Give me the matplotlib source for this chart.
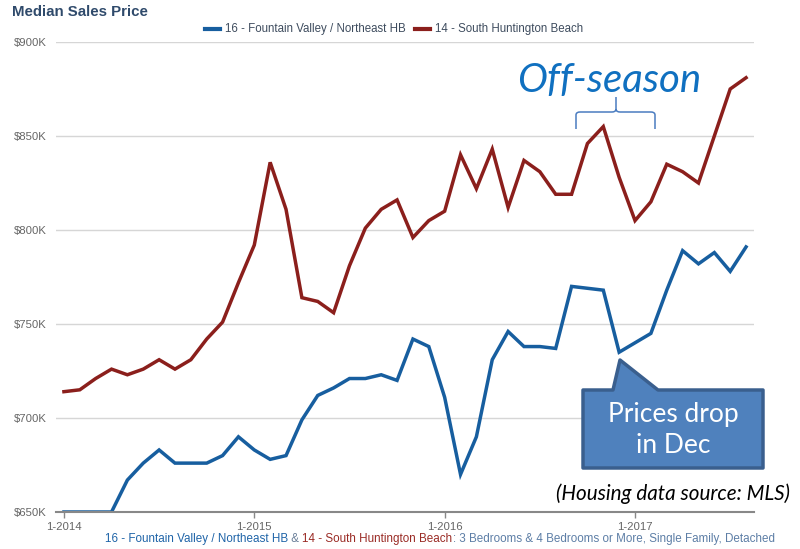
import matplotlib.pyplot as plt
import matplotlib.patches as mpatches
from matplotlib.path import Path

# monthly median sales price, $K, Jan 2014 .. Aug 2017
months = list(range(44))
fountain_valley = [650, 650, 650, 650, 667, 676, 683, 676, 676, 676, 680, 690,
                   683, 678, 680, 699, 712, 716, 721, 721, 723, 720, 742, 738,
                   711, 670, 690, 731, 746, 738, 738, 737, 770, 769, 768, 735,
                   740, 745, 768, 789, 782, 788, 778, 791]
south_hb = [714, 715, 721, 726, 723, 726, 731, 726, 731, 742, 751, 772,
            792, 836, 811, 764, 762, 756, 781, 801, 811, 816, 796, 805,
            810, 840, 822, 843, 812, 837, 831, 819, 819, 846, 855, 828,
            805, 815, 835, 831, 825, 850, 875, 881]
xtick_pos = [0, 12, 24, 36]
xtick_labels = ['1-2014', '1-2015', '1-2016', '1-2017']
ytick_vals = [650, 700, 750, 800, 850, 900]

BLUE = '#175e9f'
RED = '#8b1f1c'
W, H = 800, 549

plt.rcParams['font.family'] = ['Liberation Sans', 'DejaVu Sans']

fig = plt.figure(figsize=(W / 100, H / 100), dpi=100)
ax = fig.add_axes([56 / W, 1 - 512 / H, (754 - 56) / W, (512 - 42) / H])

ax.plot(months, fountain_valley, color=BLUE, lw=2.5, solid_joinstyle='miter')
ax.plot(months, south_hb, color=RED, lw=2.5, solid_joinstyle='miter')

ax.set_xlim(-0.5, 43.5)
ax.set_ylim(650, 900)
ax.set_yticks(ytick_vals)
ax.set_yticklabels(['$%dK' % v for v in ytick_vals])
ax.set_xticks(xtick_pos)
ax.set_xticklabels(xtick_labels)
ax.tick_params(axis='y', length=0, pad=7, labelsize=8.2, labelcolor='#666666')
ax.tick_params(axis='x', length=4, width=1, color='#888888', pad=3,
               labelsize=8.2, labelcolor='#666666')
ax.grid(axis='y', color='#d6d6d6', lw=1)
ax.set_axisbelow(True)
for s in ['top', 'right', 'left']:
    ax.spines[s].set_visible(False)
ax.spines['bottom'].set_color('#888888')
ax.spines['bottom'].set_linewidth(1.5)

fig.text(12 / W, 1 - 12 / H, 'Median Sales Price', fontsize=10.8,
         fontweight='bold', color='#2f4a6b', va='center')

renderer = fig.canvas.get_renderer()


def put_pieces(x_px, y_px, pieces, size):
    # lay out coloured text pieces one after another, left to right
    x = x_px
    for s, c in pieces:
        t = fig.text(x / W, 1 - y_px / H, s, color=c, fontsize=size, va='center')
        x += t.get_window_extent(renderer).width
    return x


# legend
x = 205
for name, col in [('16 - Fountain Valley / Northeast HB', BLUE),
                  ('14 - South Huntington Beach', RED)]:
    fig.add_artist(plt.Line2D([x / W, (x + 15) / W], [1 - 29 / H] * 2,
                              color=col, lw=3, transform=fig.transFigure))
    x = put_pieces(x + 20, 29, [(name, '#3e4c5e')], 8.3) + 9

# caption under the axis
put_pieces(105, 539, [('16 - Fountain Valley / Northeast HB', '#1f64a8'),
                      (' & ', '#6a7f99'),
                      ('14 - South Huntington Beach', '#9a2b25'),
                      (': 3 Bedrooms & 4 Bedrooms or More, Single Family, Detached',
                       '#5d7ea6')], 8.35)

# Off-season note and brace
fig.text(609 / W, 1 - 80 / H, 'Off-season', fontsize=29, style='italic',
         family='Lato', color='#1070c0', ha='center', va='center')
bx0, bx1, bxm = 576, 655, 616
by_top, by_mid, by_end = 97, 112, 129
pts = [(bx0, by_end), (bx0, by_mid + 3), (bx0, by_mid), (bx0 + 4, by_mid),
       (bxm - 4, by_mid), (bxm, by_mid), (bxm, by_mid - 3), (bxm, by_top),
       (bxm, by_mid - 3), (bxm, by_mid), (bxm + 4, by_mid),
       (bx1 - 4, by_mid), (bx1, by_mid), (bx1, by_mid + 3), (bx1, by_end)]
codes = [Path.MOVETO, Path.LINETO, Path.CURVE3, Path.CURVE3, Path.LINETO,
         Path.CURVE3, Path.CURVE3, Path.LINETO, Path.MOVETO, Path.CURVE3,
         Path.CURVE3, Path.LINETO, Path.CURVE3, Path.CURVE3, Path.LINETO]
brace = Path([(px / W, 1 - py / H) for px, py in pts], codes)
fig.add_artist(mpatches.PathPatch(brace, fill=False, ec='#4a7cc0', lw=1.1,
                                  transform=fig.transFigure))

# callout box
callout = [(583, 390), (613, 390), (620, 360), (658, 390), (763, 390),
           (763, 468), (583, 468)]
fig.add_artist(mpatches.Polygon([(px / W, 1 - py / H) for px, py in callout],
                                closed=True, fc='#4f81bd', ec='#3a5f8e', lw=2.5,
                                joinstyle='round', transform=fig.transFigure))
fig.text(673 / W, 1 - 430 / H, 'Prices drop\nin Dec', fontsize=19,
         family='Lato', color='white', ha='center', va='center',
         linespacing=1.3)

fig.text(790 / W, 1 - 494 / H, '(Housing data source: MLS)', fontsize=14.9,
         family='Lato', style='italic', color='black', ha='right', va='center')

fig.savefig('out.png', dpi=100)
